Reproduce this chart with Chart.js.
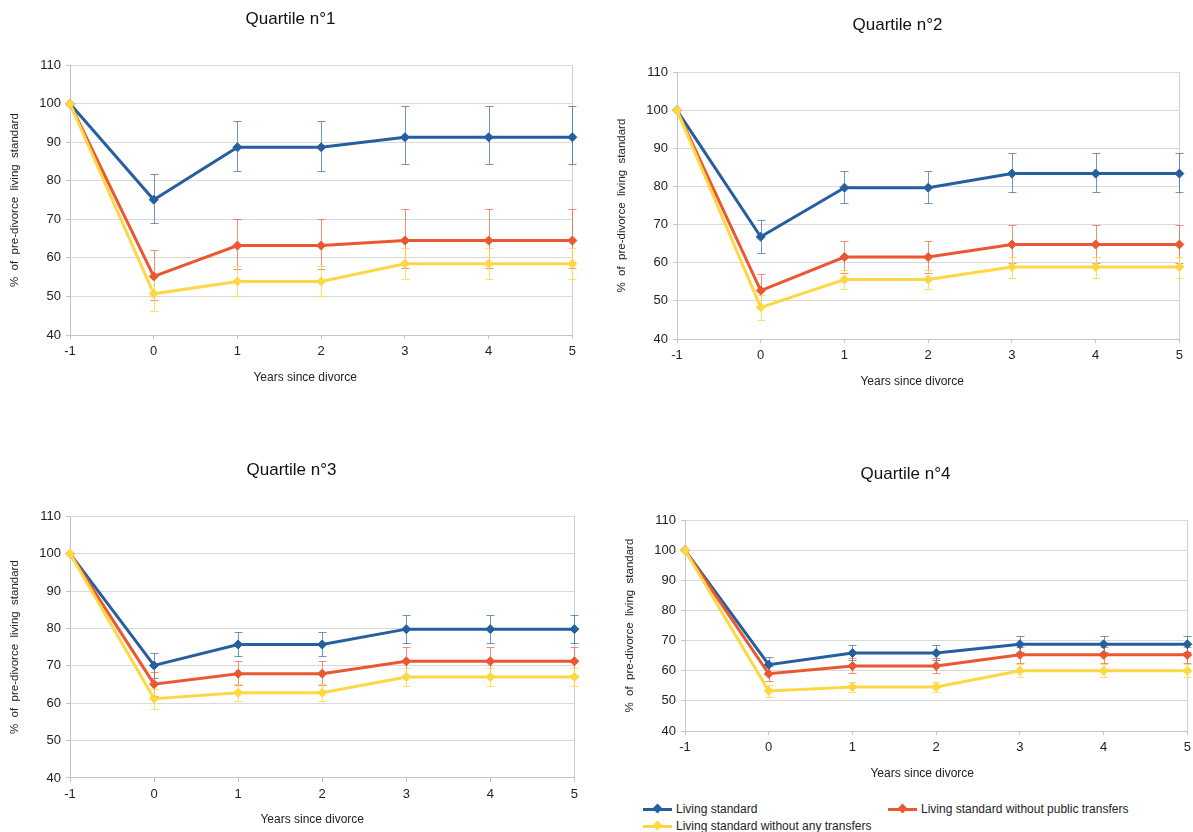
<!DOCTYPE html>
<html>
<head>
<meta charset="utf-8">
<title>Living standard after divorce by quartile</title>
<script src="https://cdn.jsdelivr.net/npm/chart.js@4/dist/chart.umd.min.js"></script>
<style>
  html, body { margin: 0; padding: 0; background: #fff; }
  body { width: 1193px; height: 832px; position: relative; overflow: hidden; font-family: "Liberation Sans", Arial, sans-serif; }
  canvas { position: absolute; }
  .legend { position: absolute; left: 643px; top: 800px; width: 550px; font-size: 12px; color: #222; }
  .legend .item { position: absolute; display: flex; align-items: center; white-space: nowrap; height: 16px; }
  .legend .mark { position: relative; width: 29px; height: 3px; margin-right: 4px; }
  .legend .mark::after { content: ''; position: absolute; left: 11px; top: -2.5px; width: 7px; height: 7px; background: inherit; transform: rotate(45deg); }
</style>
</head>
<body>
<canvas id="q1"></canvas>
<canvas id="q2"></canvas>
<canvas id="q3"></canvas>
<canvas id="q4"></canvas>
<div class="legend" id="legend"></div>

<script>
// ===== DATA =====
const years = ['-1', '0', '1', '2', '3', '4', '5'];
const seriesNames = ['Living standard', 'Living standard without public transfers', 'Living standard without any transfers'];
const yTicks = [40, 110, 10]; // min, max, step

// Quartile 1
const q1Living = [100, 75.1, 88.7, 88.7, 91.3, 91.3, 91.3];
const q1LivingHigh = [null, 81.8, 95.5, 95.5, 99.3, 99.3, 99.3];
const q1LivingLow = [null, 69.1, 82.6, 82.6, 84.3, 84.3, 84.3];
const q1NoPublic = [100, 55.2, 63.2, 63.2, 64.5, 64.5, 64.5];
const q1NoPublicHigh = [null, 62.0, 70.0, 70.0, 72.6, 72.6, 72.6];
const q1NoPublicLow = [null, 49.2, 57.2, 57.2, 57.3, 57.3, 57.3];
const q1NoTransfer = [100, 50.7, 53.9, 53.9, 58.5, 58.5, 58.5];
const q1NoTransferHigh = [null, 55.2, 57.8, 57.8, 62.6, 62.6, 62.6];
const q1NoTransferLow = [null, 46.1, 50.1, 50.1, 54.5, 54.5, 54.5];

// Quartile 2
const q2Living = [100, 66.8, 79.7, 79.7, 83.4, 83.4, 83.4];
const q2LivingHigh = [null, 71.3, 84.1, 84.1, 88.7, 88.7, 88.7];
const q2LivingLow = [null, 62.6, 75.6, 75.6, 78.6, 78.6, 78.6];
const q2NoPublic = [100, 52.7, 61.5, 61.5, 64.8, 64.8, 64.8];
const q2NoPublicHigh = [null, 57.1, 65.8, 65.8, 69.9, 69.9, 69.9];
const q2NoPublicLow = [null, 48.4, 57.3, 57.3, 59.9, 59.9, 59.9];
const q2NoTransfer = [100, 48.3, 55.6, 55.6, 58.9, 58.9, 58.9];
const q2NoTransferHigh = [null, 51.6, 58.0, 58.0, 61.6, 61.6, 61.6];
const q2NoTransferLow = [null, 45.0, 53.2, 53.2, 56.1, 56.1, 56.1];

// Quartile 3
const q3Living = [100, 70.1, 75.7, 75.7, 79.8, 79.8, 79.8];
const q3LivingHigh = [null, 73.5, 79.0, 79.0, 83.7, 83.7, 83.7];
const q3LivingLow = [null, 66.8, 72.5, 72.5, 76.0, 76.0, 76.0];
const q3NoPublic = [100, 65.1, 67.9, 67.9, 71.2, 71.2, 71.2];
const q3NoPublicHigh = [null, 68.3, 71.2, 71.2, 74.9, 74.9, 74.9];
const q3NoPublicLow = [null, 62.0, 64.8, 64.8, 67.6, 67.6, 67.6];
const q3NoTransfer = [100, 61.2, 62.8, 62.8, 67.0, 67.0, 67.0];
const q3NoTransferHigh = [null, 63.9, 65.0, 65.0, 69.5, 69.5, 69.5];
const q3NoTransferLow = [null, 58.5, 60.6, 60.6, 64.6, 64.6, 64.6];

// Quartile 4
const q4Living = [100, 62.0, 65.9, 65.9, 68.8, 68.8, 68.8];
const q4LivingHigh = [null, 64.7, 68.4, 68.4, 71.5, 71.5, 71.5];
const q4LivingLow = [null, 59.4, 63.5, 63.5, 66.2, 66.2, 66.2];
const q4NoPublic = [100, 59.0, 61.6, 61.6, 65.3, 65.3, 65.3];
const q4NoPublicHigh = [null, 61.5, 64.1, 64.1, 68.0, 68.0, 68.0];
const q4NoPublicLow = [null, 56.6, 59.2, 59.2, 62.6, 62.6, 62.6];
const q4NoTransfer = [100, 53.3, 54.6, 54.6, 60.0, 60.0, 60.0];
const q4NoTransferHigh = [null, 55.4, 56.4, 56.4, 62.3, 62.3, 62.3];
const q4NoTransferLow = [null, 51.3, 52.8, 52.8, 57.8, 57.8, 57.8];

// ===== STYLE =====
const FONT = '"Liberation Sans", Arial, sans-serif';
const COLORS = ['#255f9f', '#ea5730', '#fdd844'];
const ERR_COLORS = ['rgba(37, 95, 159, 0.65)', 'rgba(234, 87, 48, 0.65)', 'rgba(253, 216, 68, 0.8)'];

// plot-area placement of each panel on the page
const panels = [
    { id: 'q1', title: 'Quartile n°1', left: 70, right: 573, top: 65, bottom: 335, titleY: 19, xTitleY: 377, xShift: -16,
      values: [q1Living, q1NoPublic, q1NoTransfer], highs: [q1LivingHigh, q1NoPublicHigh, q1NoTransferHigh], lows: [q1LivingLow, q1NoPublicLow, q1NoTransferLow] },
    { id: 'q2', title: 'Quartile n°2', left: 677, right: 1180, top: 72, bottom: 339, titleY: 25, xTitleY: 381, xShift: -16,
      values: [q2Living, q2NoPublic, q2NoTransfer], highs: [q2LivingHigh, q2NoPublicHigh, q2NoTransferHigh], lows: [q2LivingLow, q2NoPublicLow, q2NoTransferLow] },
    { id: 'q3', title: 'Quartile n°3', left: 70, right: 575, top: 516, bottom: 778, titleY: 470, xTitleY: 819, xShift: -10,
      values: [q3Living, q3NoPublic, q3NoTransfer], highs: [q3LivingHigh, q3NoPublicHigh, q3NoTransferHigh], lows: [q3LivingLow, q3NoPublicLow, q3NoTransferLow] },
    { id: 'q4', title: 'Quartile n°4', left: 685, right: 1188, top: 520, bottom: 731, titleY: 474, xTitleY: 773, xShift: -14,
      values: [q4Living, q4NoPublic, q4NoTransfer], highs: [q4LivingHigh, q4NoPublicHigh, q4NoTransferHigh], lows: [q4LivingLow, q4NoPublicLow, q4NoTransferLow] }
];

const Y_AXIS_W = 62;
const TITLE_SIZE = 17;

// ===== PLUGINS =====
// vertical error bars with caps, drawn under the lines
const errorBars = {
    id: 'errorBars',
    beforeDatasetsDraw(chart) {
        const ctx = chart.ctx;
        const yScale = chart.scales.y;
        chart.data.datasets.forEach((ds, i) => {
            const meta = chart.getDatasetMeta(i);
            ctx.save();
            ctx.strokeStyle = ds.errorColor;
            ctx.lineWidth = 1;
            meta.data.forEach((pt, j) => {
                if (ds.errHigh[j] == null) return;
                const x = Math.round(pt.x) + 0.5;
                const top = Math.round(yScale.getPixelForValue(ds.errHigh[j])) + 0.5;
                const bot = Math.round(yScale.getPixelForValue(ds.errLow[j])) + 0.5;
                ctx.beginPath();
                ctx.moveTo(x, top); ctx.lineTo(x, bot);
                ctx.moveTo(x - 4, top); ctx.lineTo(x + 4, top);
                ctx.moveTo(x - 4, bot); ctx.lineTo(x + 4, bot);
                ctx.stroke();
            });
            ctx.restore();
        });
    }
};

// x axis caption, slightly off the plot centre as in the original
const xCaption = {
    id: 'xCaption',
    afterDraw(chart, args, opts) {
        const ctx = chart.ctx;
        const a = chart.chartArea;
        ctx.save();
        ctx.font = '12px ' + FONT;
        ctx.fillStyle = '#222';
        ctx.textAlign = 'center';
        ctx.textBaseline = 'middle';
        ctx.fillText(opts.text, (a.left + a.right) / 2 + opts.shift, opts.y);
        ctx.restore();
    }
};

// ===== CHARTS =====
panels.forEach(p => {
    const canvas = document.getElementById(p.id);
    const cLeft = p.left - Y_AXIS_W;
    const cTop = p.titleY - TITLE_SIZE * 1.2 / 2;
    const cBottom = p.xTitleY + 10;
    const cWidth = p.right + 8 - cLeft;
    const cHeight = cBottom - cTop;
    canvas.style.left = cLeft + 'px';
    canvas.style.top = cTop + 'px';
    canvas.width = cWidth;
    canvas.height = cHeight;

    const titleBottomPad = p.top - (cTop + TITLE_SIZE * 1.2);
    const xAxisH = cBottom - p.bottom;

    const datasets = seriesNames.map((name, k) => ({
        label: name,
        data: p.values[k],
        errHigh: p.highs[k],
        errLow: p.lows[k],
        errorColor: ERR_COLORS[k],
        borderColor: COLORS[k],
        backgroundColor: COLORS[k],
        borderWidth: 3,
        pointStyle: 'rectRot',
        pointRadius: 4.5,
        pointBorderWidth: 1,
        pointBackgroundColor: COLORS[k],
        tension: 0,
        order: 2 - k
    }));

    new Chart(canvas, {
        type: 'line',
        data: { labels: years, datasets: datasets },
        plugins: [errorBars, xCaption],
        options: {
            responsive: false,
            animation: false,
            layout: { padding: { left: 0, right: 8, top: 0, bottom: 0 } },
            plugins: {
                legend: { display: false },
                tooltip: { enabled: false },
                title: {
                    display: true,
                    text: p.title,
                    color: '#111',
                    font: { family: FONT, size: TITLE_SIZE, weight: 'normal' },
                    padding: { top: 0, bottom: titleBottomPad }
                },
                xCaption: { text: 'Years since divorce', y: p.xTitleY - cTop, shift: p.xShift }
            },
            scales: {
                x: {
                    offset: false,
                    afterFit: s => { s.height = xAxisH; },
                    border: { color: '#c4c4c4' },
                    grid: {
                        color: c => c.index === years.length - 1 ? '#cfcfcf' : 'rgba(0,0,0,0)',
                        tickColor: '#c4c4c4',
                        tickLength: 4
                    },
                    ticks: { color: '#222', padding: 5, font: { family: FONT, size: 13 }, maxRotation: 0 }
                },
                y: {
                    min: yTicks[0], max: yTicks[1],
                    afterFit: s => { s.width = Y_AXIS_W; },
                    border: { color: '#c4c4c4' },
                    grid: { color: '#d9d9d9', tickColor: '#c4c4c4', tickLength: 4 },
                    ticks: { stepSize: yTicks[2], color: '#222', padding: 5, font: { family: FONT, size: 13 } },
                    title: {
                        display: true,
                        text: '%  of  pre-divorce  living  standard',
                        color: '#222',
                        font: { family: FONT, size: 11.5 },
                        padding: { top: 0, bottom: 0 }
                    }
                }
            }
        }
    });
});

// ===== SHARED LEGEND =====
const legendPos = [[0, 1], [245, 1], [0, 18]];
const legendBox = document.getElementById('legend');
seriesNames.forEach((name, k) => {
    const item = document.createElement('div');
    item.className = 'item';
    item.style.left = legendPos[k][0] + 'px';
    item.style.top = legendPos[k][1] + 'px';
    const mark = document.createElement('span');
    mark.className = 'mark';
    mark.style.background = COLORS[k];
    item.appendChild(mark);
    item.appendChild(document.createTextNode(name));
    legendBox.appendChild(item);
});
</script>
</body>
</html>
